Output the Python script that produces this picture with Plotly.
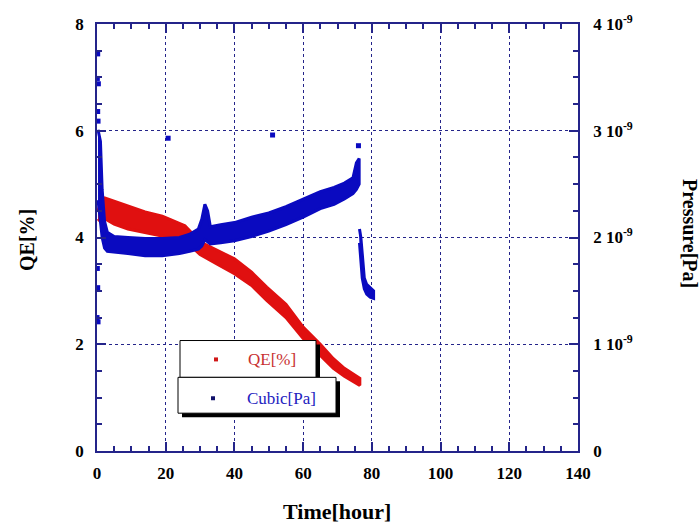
import plotly.graph_objects as go

# ---------------- data ----------------
# QE [%] band (scatter of dense points), left axis
qe_t     = [0.3, 1.0, 2.3, 5.0, 9.0, 14.0, 19.0, 25.6, 30.0, 35.0, 40.0, 45.0, 49.4, 55.0, 60.0, 65.0, 68.8, 72.0, 76.5]
qe_upper = [4.50, 4.65, 4.74, 4.68, 4.59, 4.48, 4.40, 4.22, 3.92, 3.76, 3.60, 3.35, 3.07, 2.75, 2.32, 2.00, 1.73, 1.55, 1.36]
qe_lower = [4.35, 4.30, 4.35, 4.25, 4.16, 4.10, 4.03, 3.94, 3.68, 3.50, 3.32, 3.10, 2.82, 2.50, 2.11, 1.80, 1.55, 1.40, 1.23]

# Cubic gauge pressure, in units of 1e-9 Pa, right axis
p_scale = 1e-9
p_t     = [0.3, 1.0, 1.5, 2.2, 3.0, 5.0, 9.0, 14.0, 19.0, 24.0, 27.0, 29.5, 30.5, 31.4, 32.2, 33.0, 36.0, 40.0, 45.0, 50.0, 55.0, 60.0, 65.0, 69.0, 72.0, 74.5, 75.5, 76.3]
p_upper = [3.01, 2.90, 2.45, 2.15, 2.05, 2.01, 2.00, 1.99, 1.99, 2.00, 2.03, 2.08, 2.17, 2.31, 2.25, 2.10, 2.12, 2.14, 2.19, 2.23, 2.29, 2.36, 2.43, 2.47, 2.51, 2.56, 2.70, 2.74]
p_lower = [2.35, 2.15, 2.00, 1.90, 1.87, 1.86, 1.85, 1.83, 1.83, 1.85, 1.87, 1.89, 1.92, 1.98, 1.96, 1.94, 1.95, 1.97, 2.01, 2.06, 2.12, 2.19, 2.27, 2.31, 2.36, 2.41, 2.45, 2.50]

# pressure drop after ~76 h
pd_t     = [76.4, 76.8, 77.2, 77.8, 78.5, 79.5, 80.5]
pd_upper = [2.08, 2.00, 1.85, 1.62, 1.56, 1.53, 1.50]
pd_lower = [1.95, 1.80, 1.62, 1.52, 1.47, 1.44, 1.43]

# isolated pressure points
po_t = [0.2, 0.1, 0.4, 0.2, 0.3, 0.1, 0.2, 0.0, 0.3, 20.7, 51.1, 76.1]
po_p = [3.72, 3.49, 3.44, 3.18, 3.09, 1.71, 1.53, 1.25, 1.21, 2.93, 2.96, 2.86]

x_ticks = [0, 20, 40, 60, 80, 100, 120, 140]
y_ticks = [0, 2, 4, 6, 8]
y2_ticks = [0, 1, 2, 3, 4]
y2_labels = ["0", "1 10<sup>-9</sup>", "2 10<sup>-9</sup>", "3 10<sup>-9</sup>", "4 10<sup>-9</sup>"]
legend_labels = ["QE[%]", "Cubic[Pa]"]

# ---------------- style ----------------
RED = "#e01010"
BLUE = "#0a0ac0"
NAVY = "#24248a"
FONT = "Liberation Serif"

fig = go.Figure()

fig.add_trace(go.Scatter(
    x=qe_t + qe_t[::-1], y=qe_upper + qe_lower[::-1],
    fill="toself", fillcolor=RED, mode="lines",
    line=dict(color=RED, width=3), showlegend=False, hoverinfo="skip"))

fig.add_trace(go.Scatter(
    x=p_t + p_t[::-1], y=[v * p_scale for v in p_upper + p_lower[::-1]],
    fill="toself", fillcolor=BLUE, mode="lines",
    line=dict(color=BLUE, width=3), yaxis="y2", showlegend=False, hoverinfo="skip"))

fig.add_trace(go.Scatter(
    x=pd_t + pd_t[::-1], y=[v * p_scale for v in pd_upper + pd_lower[::-1]],
    fill="toself", fillcolor=BLUE, mode="lines",
    line=dict(color=BLUE, width=3), yaxis="y2", showlegend=False, hoverinfo="skip"))

fig.add_trace(go.Scatter(
    x=po_t, y=[v * p_scale for v in po_p], mode="markers",
    marker=dict(symbol="square", size=5, color=BLUE), yaxis="y2",
    showlegend=False, hoverinfo="skip"))

# ---------------- layout ----------------
L, R, T, B = 97, 122, 22, 75
W, H = 700, 526
PW, PH = W - L - R, H - T - B


def px(xp):
    return (xp - L) / PW


def py(yp):
    return (H - B - yp) / PH


tickfont = dict(family=FONT, size=17, color="black", weight="bold")

fig.update_layout(
    width=W, height=H,
    margin=dict(l=L, r=R, t=T, b=B),
    paper_bgcolor="white", plot_bgcolor="white",
    showlegend=False,
    xaxis=dict(range=[0, 140], tickmode="array", tickvals=x_ticks,
               ticks="inside", ticklen=9, tickwidth=1.5, tickcolor=NAVY,
               minor=dict(dtick=5, tick0=0, ticks="inside", ticklen=5, tickwidth=1.5, tickcolor=NAVY, showgrid=False),
               showline=True, linecolor=NAVY, linewidth=1.5, mirror="ticks",
               showgrid=True, gridcolor=NAVY, griddash="dot", gridwidth=1,
               zeroline=False, tickfont=tickfont, ticklabelstandoff=6, fixedrange=True),
    yaxis=dict(range=[0, 8], tickmode="array", tickvals=y_ticks,
               ticks="inside", ticklen=9, tickwidth=1.5, tickcolor=NAVY,
               minor=dict(dtick=0.5, tick0=0, ticks="inside", ticklen=5, tickwidth=1.5, tickcolor=NAVY, showgrid=False),
               showline=True, linecolor=NAVY, linewidth=1.5,
               showgrid=True, gridcolor=NAVY, griddash="dot", gridwidth=1,
               zeroline=False, tickfont=tickfont, ticklabelstandoff=8),
    yaxis2=dict(range=[0, 4e-9], overlaying="y", side="right",
                tickmode="array", tickvals=[v * p_scale for v in y2_ticks], ticktext=y2_labels,
                ticks="inside", ticklen=9, tickwidth=1.5, tickcolor=NAVY,
                minor=dict(tickmode="array", tickvals=[i * 0.25 * p_scale for i in range(17)],
                           ticks="inside", ticklen=5, tickwidth=1.5, tickcolor=NAVY, showgrid=False),
                showline=True, linecolor=NAVY, linewidth=1.5,
                showgrid=False, zeroline=False, tickfont=tickfont, ticklabelstandoff=10),
)

# axis titles
fig.add_annotation(text="Time[hour]", xref="paper", yref="paper", x=px(337), y=py(512),
                   showarrow=False, font=dict(family=FONT, size=22, color="black", weight="bold"),
                   xanchor="center", yanchor="middle")
fig.add_annotation(text="QE[%]", xref="paper", yref="paper", x=px(27), y=py(239),
                   showarrow=False, textangle=-90,
                   font=dict(family=FONT, size=20, color="black", weight="bold"),
                   xanchor="center", yanchor="middle")
fig.add_annotation(text="Pressure[Pa]", xref="paper", yref="paper", x=px(690), y=py(232),
                   showarrow=False, textangle=90,
                   font=dict(family=FONT, size=20, color="black", weight="bold"),
                   xanchor="center", yanchor="middle")

# custom legend (two stacked boxes with drop shadows)
def box(x0, y0, x1, y1, sh=4):
    fig.add_shape(type="rect", xref="paper", yref="paper",
                  x0=px(x0 + sh), x1=px(x1 + sh), y0=py(y1 + sh), y1=py(y0 + sh),
                  fillcolor="black", line=dict(width=0), layer="above")
    fig.add_shape(type="rect", xref="paper", yref="paper",
                  x0=px(x0), x1=px(x1), y0=py(y1), y1=py(y0),
                  fillcolor="white", line=dict(color="black", width=1), layer="above")


box(180, 340, 316, 377)
box(178, 377, 336, 413)

for (mx, my, col) in [(216, 359, "#d01818"), (213, 398, "#10106a")]:
    fig.add_shape(type="rect", xref="paper", yref="paper",
                  x0=px(mx - 2), x1=px(mx + 2), y0=py(my + 2), y1=py(my - 2),
                  fillcolor=col, line=dict(width=0), layer="above")

fig.add_annotation(text=legend_labels[0], xref="paper", yref="paper", x=px(246), y=py(359),
                   showarrow=False, xanchor="left", yanchor="middle",
                   font=dict(family=FONT, size=17, color="#c83030"))
fig.add_annotation(text=legend_labels[1], xref="paper", yref="paper", x=px(245), y=py(398),
                   showarrow=False, xanchor="left", yanchor="middle",
                   font=dict(family=FONT, size=17, color="#2222c0"))

fig.write_html("out.html")
